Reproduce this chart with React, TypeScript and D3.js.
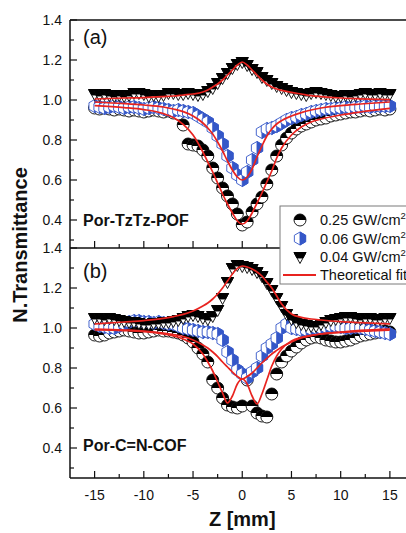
import React from 'react';
import * as d3 from 'd3';

// ---------- data ----------
const zPos = [-15, -14.5, -14, -13.5, -13, -12.5, -12, -11.5, -11, -10.5,
  -10, -9.5, -9, -8.5, -8, -7.5, -7, -6.5, -6, -5.5,
  -5, -4.5, -4, -3.5, -3, -2.5, -2, -1.5, -1, -0.5,
  0,
  0.5, 1, 1.5, 2, 2.5, 3, 3.5, 4, 4.5, 5,
  5.5, 6, 6.5, 7, 7.5, 8, 8.5, 9, 9.5, 10,
  10.5, 11, 11.5, 12, 12.5, 13, 13.5, 14, 14.5, 15];

// Panel (a) Por-TzTz-POF
const circA = [0.96, 0.955, 0.96, 0.955, 0.95, 0.955, 0.95, 0.945, 0.95, 0.945,
  0.94, 0.945, 0.95, 0.945, 0.94, 0.945, 0.935, 0.93, 0.875, 0.78,
  0.775, 0.77, 0.75, 0.72, 0.66, 0.61, 0.56, 0.52, 0.48, 0.43,
  0.375,
  0.39, 0.44, 0.48, 0.515, 0.58, 0.65, 0.72, 0.775, 0.81, 0.835,
  0.855, 0.87, 0.88, 0.89, 0.9, 0.905, 0.91, 0.92, 0.925, 0.93,
  0.935, 0.94, 0.94, 0.945, 0.95, 0.945, 0.95, 0.955, 0.95, 0.955];
const hexA = [0.97, 0.965, 0.96, 0.965, 0.97, 0.965, 0.96, 0.965, 0.965, 0.96,
  0.955, 0.96, 0.965, 0.96, 0.955, 0.95, 0.945, 0.95, 0.945, 0.94,
  0.935, 0.92, 0.905, 0.89, 0.86, 0.82, 0.78, 0.72, 0.66, 0.625,
  0.6,
  0.64, 0.7, 0.76, 0.84, 0.855, 0.86, 0.87, 0.885, 0.9, 0.91,
  0.915, 0.925, 0.93, 0.94, 0.945, 0.95, 0.955, 0.955, 0.96, 0.96,
  0.965, 0.96, 0.965, 0.965, 0.97, 0.965, 0.97, 0.97, 0.97, 0.97];
const triA = [1.03, 1.025, 1.03, 1.025, 1.02, 1.025, 1.02, 1.025, 1.035, 1.035,
  1.03, 1.02, 1.025, 1.02, 1.025, 1.035, 1.035, 1.03, 1.03, 1.035,
  1.03, 1.025, 1.03, 1.045, 1.06, 1.085, 1.11, 1.135, 1.16, 1.18,
  1.19,
  1.175, 1.155, 1.14, 1.115, 1.1, 1.085, 1.07, 1.06, 1.05, 1.04,
  1.035, 1.03, 1.025, 1.035, 1.04, 1.035, 1.03, 1.025, 1.02, 1.02,
  1.025, 1.02, 1.025, 1.03, 1.035, 1.03, 1.03, 1.035, 1.03, 1.03];

// Panel (b) Por-C=N-COF
const circB = [0.965, 0.96, 0.965, 0.975, 0.98, 0.985, 0.99, 0.985, 0.98, 0.975,
  0.975, 0.98, 0.985, 0.99, 0.985, 0.985, 0.98, 0.975, 0.965, 0.95,
  0.93, 0.9, 0.87, 0.83, 0.74, 0.7, 0.65, 0.615, 0.605, 0.6,
  0.61,
  0.74, 0.61, 0.575, 0.56, 0.555, 0.67, 0.77, 0.83, 0.86, 0.885,
  0.905, 0.925, 0.94, 0.95, 0.955, 0.95, 0.94, 0.935, 0.93, 0.93,
  0.935, 0.94, 0.95, 0.96, 0.965, 0.97, 0.975, 0.98, 0.985, 0.98];
const hexB = [1.02, 1.01, 1.005, 1.0, 1.0, 1.01, 1.02, 1.03, 1.035, 1.035,
  1.03, 1.03, 1.025, 1.03, 1.025, 1.02, 1.02, 1.01, 1.0, 0.995,
  0.99, 0.985, 0.98, 0.98, 0.975, 0.97, 0.94, 0.88, 0.84, 0.79,
  0.77,
  0.75, 0.78, 0.8, 0.86, 0.9, 0.92, 0.95, 1.0, 1.02, 1.0,
  0.995, 0.99, 0.99, 0.995, 1.0, 1.0, 1.005, 1.01, 1.01, 1.005,
  1.0, 1.0, 1.005, 1.0, 0.995, 0.99, 0.985, 0.98, 0.975, 0.97];
const triB = [1.05, 1.05, 1.045, 1.05, 1.045, 1.04, 1.035, 1.03, 1.03, 1.025,
  1.02, 1.02, 1.025, 1.025, 1.03, 1.03, 1.035, 1.04, 1.05, 1.06,
  1.065, 1.06, 1.05, 1.045, 1.06, 1.09, 1.15, 1.23, 1.3, 1.315,
  1.31,
  1.305, 1.295, 1.28, 1.26, 1.225, 1.19, 1.15, 1.11, 1.07, 1.045,
  1.03, 1.02, 1.015, 1.01, 1.01, 1.02, 1.03, 1.04, 1.045, 1.05,
  1.055, 1.055, 1.05, 1.045, 1.05, 1.05, 1.045, 1.045, 1.05, 1.05];

// Theoretical fits (sampled)
const fitZ = [-15, -12, -10, -8, -7, -6, -5, -4, -3.5, -3, -2.5, -2, -1.5, -1, -0.5, 0,
  0.5, 1, 1.5, 2, 2.5, 3, 3.5, 4, 5, 6, 7, 8, 10, 12, 15];
const fitTriA = [1.005, 1.01, 1.012, 1.017, 1.02, 1.025, 1.03, 1.04, 1.05, 1.065, 1.08, 1.1, 1.125, 1.15, 1.175, 1.19,
  1.175, 1.15, 1.125, 1.1, 1.08, 1.065, 1.055, 1.048, 1.038, 1.03, 1.022, 1.017, 1.01, 1.006, 1.002];
const fitHexA = [0.99, 0.982, 0.975, 0.965, 0.955, 0.942, 0.92, 0.885, 0.86, 0.83, 0.79, 0.745, 0.695, 0.65, 0.615, 0.6,
  0.615, 0.655, 0.715, 0.77, 0.82, 0.855, 0.88, 0.897, 0.92, 0.937, 0.95, 0.96, 0.972, 0.98, 0.99];
const fitCircA = [0.972, 0.962, 0.952, 0.932, 0.912, 0.878, 0.825, 0.74, 0.69, 0.64, 0.585, 0.53, 0.48, 0.435, 0.395, 0.38,
  0.395, 0.435, 0.485, 0.535, 0.59, 0.645, 0.71, 0.76, 0.825, 0.865, 0.89, 0.905, 0.925, 0.94, 0.958];
const fitTriB = [1.02, 1.03, 1.037, 1.048, 1.057, 1.068, 1.085, 1.11, 1.125, 1.145, 1.17, 1.2, 1.235, 1.27, 1.298, 1.31,
  1.305, 1.295, 1.28, 1.26, 1.23, 1.2, 1.16, 1.12, 1.07, 1.053, 1.045, 1.04, 1.032, 1.027, 1.02];
const fitHexB = [0.995, 0.99, 0.985, 0.975, 0.967, 0.957, 0.94, 0.915, 0.9, 0.88, 0.857, 0.83, 0.805, 0.78, 0.758, 0.745,
  0.757, 0.775, 0.8, 0.825, 0.848, 0.87, 0.888, 0.905, 0.93, 0.95, 0.962, 0.97, 0.98, 0.988, 0.995];
const fitCircB = [0.99, 0.987, 0.982, 0.97, 0.96, 0.945, 0.92, 0.87, 0.83, 0.785, 0.73, 0.675, 0.625, 0.66, 0.72, 0.745,
  0.72, 0.66, 0.62, 0.67, 0.74, 0.81, 0.86, 0.895, 0.935, 0.953, 0.963, 0.97, 0.978, 0.983, 0.99];

const xTicks = [-15, -10, -5, 0, 5, 10, 15];
const xMinor = [-12.5, -7.5, -2.5, 2.5, 7.5, 12.5];
const yTicks = [0.4, 0.6, 0.8, 1.0, 1.2, 1.4];
const yMinor = [0.3, 0.5, 0.7, 0.9, 1.1, 1.3];
const legendLabels = ['0.25 GW/cm', '0.06 GW/cm', '0.04 GW/cm', 'Theoretical fit'];

// ---------- layout ----------
const W = 406, H = 533;
const X0 = 70, X1 = 414.5;
const FONT = 'Liberation Sans, Arial, Helvetica, sans-serif';
const BLUE = '#3457c8';
const RED = '#e8231f';

const x = d3.scaleLinear().domain([-17.5, 17.5]).range([X0, X1]);
const yA = d3.scaleLinear().domain([0.26, 1.4]).range([248, 20]);
const yB = d3.scaleLinear().domain([0.25, 1.4]).range([478, 248]);

const Circ = ({ cx, cy }: { cx: number; cy: number }) => {
  const r = 6;
  return (
    <g transform={`translate(${cx},${cy})`}>
      <circle r={r} fill="#fff" stroke="#000" strokeWidth={0.9} />
      <path d={`M${-r},0A${r},${r} 0 0 1 ${r},0Z`} fill="#000" />
    </g>
  );
};

const Hex = ({ cx, cy }: { cx: number; cy: number }) => {
  const r = 6.5;
  const a = 0.866 * r, b = 0.5 * r;
  return (
    <g transform={`translate(${cx},${cy})`}>
      <polygon points={`0,${-r} ${a},${-b} ${a},${b} 0,${r} ${-a},${b} ${-a},${-b}`} fill="#fff" stroke={BLUE} strokeWidth={0.9} />
      <polygon points={`0,${-r} ${a},${-b} ${a},${b} 0,${r}`} fill={BLUE} stroke={BLUE} strokeWidth={0.9} />
    </g>
  );
};

const Tri = ({ cx, cy }: { cx: number; cy: number }) => (
  <g transform={`translate(${cx},${cy})`}>
    <polygon points="-6,-4.5 6,-4.5 0,6.5" fill="#fff" stroke="#000" strokeWidth={0.9} />
    <polygon points="-6,-4.5 6,-4.5 3,1 -3,1" fill="#000" stroke="#000" strokeWidth={0.9} />
  </g>
);

const fitLine = (y: d3.ScaleLinear<number, number>) =>
  d3.line<number>().x((_, i) => x(fitZ[i])).y((v) => y(v)).curve(d3.curveMonotoneX);

type PanelProps = {
  y: d3.ScaleLinear<number, number>;
  circ: number[]; hex: number[]; tri: number[];
  fits: number[][];
  top: number; bottom: number;
  tag: string; tagY: number;
  name: string; nameY: number;
  drawTop: boolean;
};

const Panel = (p: PanelProps) => {
  const line = fitLine(p.y);
  const fmt = d3.format('.1f');
  return (
    <g>
      {zPos.map((z, i) => <Circ key={'c' + i} cx={x(z)} cy={p.y(p.circ[i])} />)}
      {zPos.map((z, i) => <Hex key={'h' + i} cx={x(z)} cy={p.y(p.hex[i])} />)}
      {zPos.map((z, i) => <Tri key={'t' + i} cx={x(z)} cy={p.y(p.tri[i])} />)}
      {p.fits.map((f, i) => (
        <path key={'f' + i} d={line(f) || ''} fill="none" stroke={RED} strokeWidth={1.7} />
      ))}
      {/* axes */}
      <line x1={X0} x2={X0} y1={p.top} y2={p.bottom} stroke="#111" strokeWidth={1.5} />
      <line x1={X0} x2={X1} y1={p.bottom} y2={p.bottom} stroke="#111" strokeWidth={1.5} />
      {p.drawTop && <line x1={X0} x2={X1} y1={p.top} y2={p.top} stroke="#111" strokeWidth={1.5} />}
      {yTicks.map((t) => (
        <g key={'yt' + t}>
          <line x1={X0} x2={X0 + 7} y1={p.y(t)} y2={p.y(t)} stroke="#111" strokeWidth={1.2} />
          <text x={62} y={p.y(t) + 5} textAnchor="end" fontSize={14} fontFamily={FONT} fill="#111">{fmt(t)}</text>
        </g>
      ))}
      {yMinor.map((t) => (
        <line key={'ym' + t} x1={X0} x2={X0 + 4} y1={p.y(t)} y2={p.y(t)} stroke="#111" strokeWidth={1.2} />
      ))}
      {xTicks.map((t) => (
        <line key={'xt' + t} x1={x(t)} x2={x(t)} y1={p.bottom} y2={p.bottom - 7} stroke="#111" strokeWidth={1.2} />
      ))}
      {xMinor.map((t) => (
        <line key={'xm' + t} x1={x(t)} x2={x(t)} y1={p.bottom} y2={p.bottom - 4} stroke="#111" strokeWidth={1.2} />
      ))}
      <text x={83} y={p.tagY} fontSize={20} fontFamily={FONT} fill="#111">{p.tag}</text>
      <text x={83} y={p.nameY} fontSize={16} fontWeight="bold" fontFamily={FONT} fill="#111">{p.name}</text>
    </g>
  );
};

export default function App() {
  const legY = [220, 238.5, 257, 275];
  return (
    <svg width={W} height={H} style={{ position: 'absolute', left: 0, top: 0, background: '#fff' }}>
      <rect x={0} y={0} width={W} height={H} fill="#fff" />
      <Panel y={yA} circ={circA} hex={hexA} tri={triA} fits={[fitTriA, fitHexA, fitCircA]}
        top={20} bottom={248} tag="(a)" tagY={44} name="Por-TzTz-POF" nameY={226} drawTop={true} />
      <Panel y={yB} circ={circB} hex={hexB} tri={triB} fits={[fitTriB, fitHexB, fitCircB]}
        top={248} bottom={478} tag="(b)" tagY={278} name="Por-C=N-COF" nameY={451} drawTop={false} />
      {xTicks.map((t) => (
        <text key={'xl' + t} x={x(t)} y={500} textAnchor="middle" fontSize={14} fontFamily={FONT} fill="#111">{String(t)}</text>
      ))}
      <text x={x(0)} y={526} textAnchor="middle" fontSize={20} fontWeight="bold" fontFamily={FONT} fill="#111">Z [mm]</text>
      <text transform="translate(27,245) rotate(-90)" textAnchor="middle" fontSize={20} fontWeight="bold" fontFamily={FONT} fill="#111">N.Transmittance</text>
      {/* legend */}
      <rect x={280} y={206} width={140} height={78} fill="#fff" stroke="#7a7a7a" strokeWidth={1} />
      <Circ cx={300} cy={legY[0]} />
      <Hex cx={300} cy={legY[1]} />
      <Tri cx={300} cy={legY[2]} />
      <line x1={283} x2={316} y1={legY[3]} y2={legY[3]} stroke={RED} strokeWidth={1.8} />
      {legendLabels.map((l, i) => (
        <text key={'lg' + i} x={320} y={legY[i] + 5} fontSize={14.5} fontFamily={FONT} fill="#111">
          {l}
          {i < 3 && <tspan dy={-6} fontSize={9.5}>2</tspan>}
        </text>
      ))}
    </svg>
  );
}
